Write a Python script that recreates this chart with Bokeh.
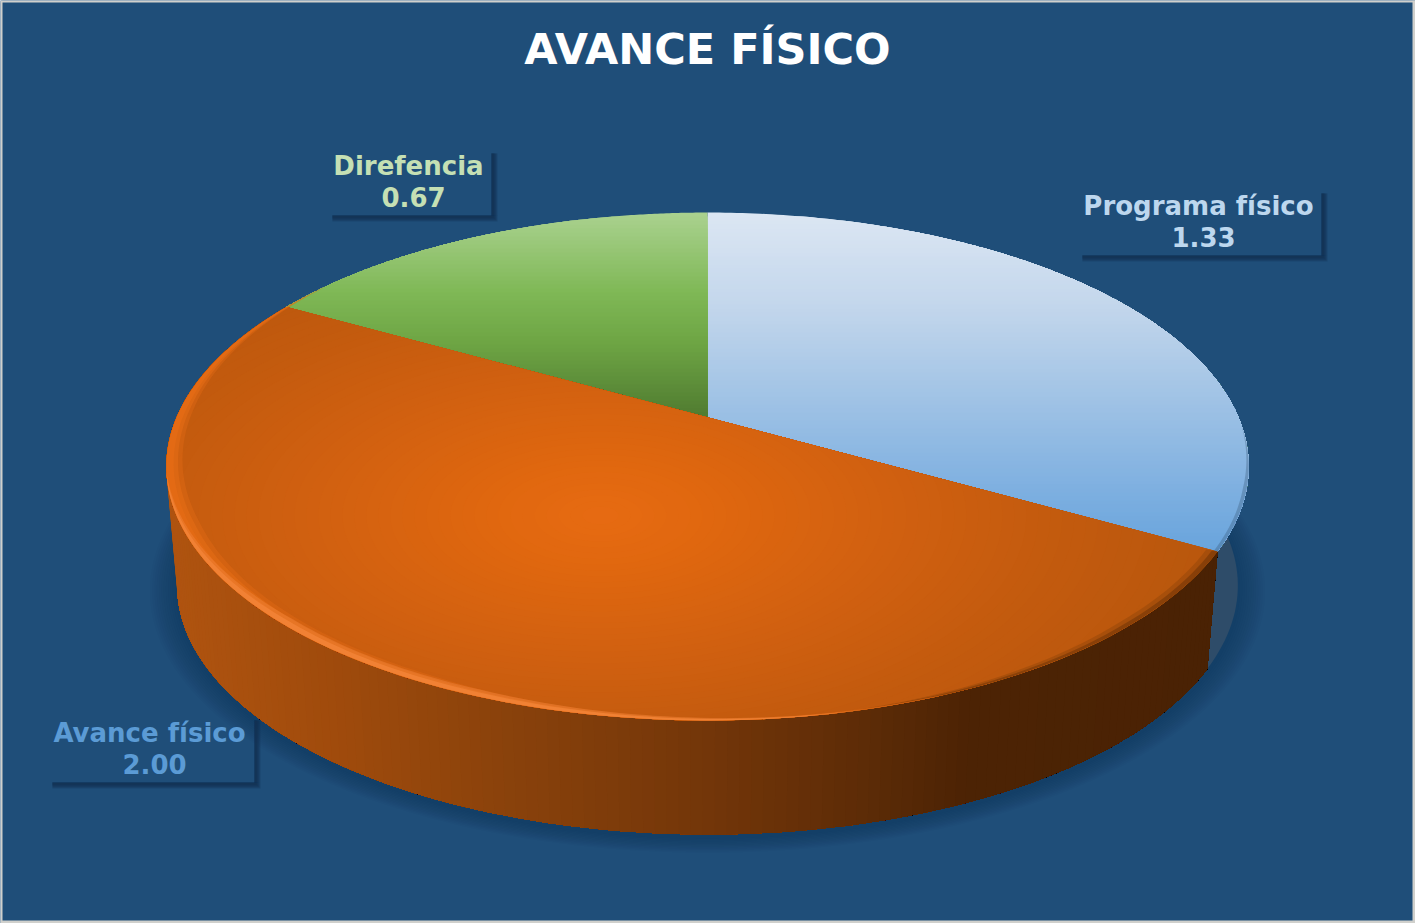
import numpy as np
from bokeh.plotting import figure
from bokeh.models import Range1d
from bokeh.core.properties import value
from bokeh.embed import file_html
from bokeh.resources import INLINE

TITLE = "AVANCE FÍSICO"
categories = ["Programa físico", "Avance físico", "Direfencia"]
values = [1.33, 2.00, 0.67]

BG = "#1F4E79"
FONT = "DejaVu Sans"

# fracción -> ángulo (horario desde arriba)
total = sum(values)
edges = np.cumsum([0] + values) / total * 2 * np.pi
a_blue, a_orange, a_green = (edges[0], edges[1]), (edges[1], edges[2]), (edges[2], edges[3])

# proyección en perspectiva de un disco
CX, K = 707.0, -0.193
A, B = 531.0, 244.5
APEX_Y, WALL_Y, WALL_S = 417.0, 537.0, 0.98


def proj(t, y0=APEX_Y, s=1.0):
    t = np.asarray(t, dtype=float)
    u, v = np.sin(t), np.cos(t)
    d = 1 - K * v
    return CX + s * A * u / d, y0 - s * B * v / d


def hex2rgb(h):
    return np.array([int(h[i:i + 2], 16) for i in (1, 3, 5)], dtype=float)


def ramp(x, stops):
    xs = [s[0] for s in stops]
    cs = np.array([hex2rgb(s[1]) for s in stops])
    return "#%02x%02x%02x" % tuple(int(round(np.interp(x, xs, cs[:, i]))) for i in range(3))


def clip(poly, a, b, c):
    """Conserva a*x+b*y>=c."""
    out = []
    n = len(poly)
    for i in range(n):
        p_, q = poly[i], poly[(i + 1) % n]
        fp, fq = a * p_[0] + b * p_[1] - c, a * q[0] + b * q[1] - c
        if fp >= 0:
            out.append(p_)
        if fp * fq < 0:
            r = fp / (fp - fq)
            out.append((p_[0] + r * (q[0] - p_[0]), p_[1] + r * (q[1] - p_[1])))
    return out


def clip_convex(poly, hull, inner):
    """Recorta poly con el polígono convexo hull; inner es un punto interior."""
    for i in range(len(hull)):
        (x0, y0), (x1, y1) = hull[i], hull[(i + 1) % len(hull)]
        a, b = -(y1 - y0), (x1 - x0)
        c = a * x0 + b * y0
        if a * inner[0] + b * inner[1] < c:
            a, b, c = -a, -b, -c
        poly = clip(poly, a, b, c)
        if len(poly) < 3:
            return []
    return poly


def sector(a0, a1, n=160):
    t = np.linspace(a0, a1, n)
    x, y = proj(t)
    return [(CX, APEX_Y)] + list(zip(x, y))


p = figure(width=1415, height=923, x_range=Range1d(0, 1415), y_range=Range1d(923, 0),
           x_axis_type=None, y_axis_type=None, toolbar_location=None,
           output_backend="svg", min_border=0, outline_line_color=None,
           background_fill_color=BG, border_fill_color=BG)
p.grid.visible = False


def draw(polys, colors, alpha=1.0):
    p.patches([[q[0] for q in P] for P in polys], [[q[1] for q in P] for P in polys],
              fill_color=colors, fill_alpha=alpha, line_color=None)


def crescent(t, widths, color, alpha):
    xo, yo = proj(t)
    u_ = np.asarray(widths)
    xi = xo + (CX - xo) * u_
    yi = yo + (466.0 - yo) * u_
    draw([list(zip(xo, yo)) + list(zip(xi[::-1], yi[::-1]))], [color], alpha=alpha)


# sombra suave bajo el disco
tt = np.linspace(0, 2 * np.pi, 240)
sh_polys = []
for i in range(12, 0, -1):
    sx, sy = proj(tt, y0=WALL_Y + 3, s=WALL_S + i * 0.0042)
    sh_polys.append(list(zip(sx, sy)))
draw(sh_polys, ["#12304f"] * len(sh_polys), alpha=0.028)

# pared azul
ta = np.linspace(np.pi / 4, a_blue[1], 60)
xt, yt = proj(ta)
xb, yb = proj(ta, y0=WALL_Y, s=WALL_S)
draw([list(zip(xt, yt)) + list(zip(xb[::-1], yb[::-1]))], ["#2e4c69"])

# pared naranja: franja por franja, pintando hacia la derecha
WALL_STOPS = [(170, "#b05410"), (330, "#a04b0c"), (500, "#8a420b"), (700, "#733609"),
              (850, "#5e2c07"), (960, "#4c2304"), (1220, "#4a2204")]
steps = np.linspace(a_orange[1], a_orange[0], 170)
wall_polys, wall_cols = [], []
for i in range(len(steps) - 1):
    seg = steps[i:]
    xt, yt = proj(seg)
    xb, yb = proj(seg, y0=WALL_Y, s=WALL_S)
    wall_polys.append(list(zip(xt, yt)) + list(zip(xb[::-1], yb[::-1])))
    wall_cols.append(ramp(xb[0], WALL_STOPS))
draw(wall_polys, wall_cols)

# cara superior: degradados verticales
BLUE_STOPS = [(212, "#dbe6f3"), (300, "#c4d7ec"), (400, "#9fc2e5"), (490, "#7dafe0"), (555, "#66a3dc")]
GREEN_STOPS = [(212, "#a9d18e"), (290, "#7fb856"), (340, "#6ea544"), (417, "#4f7a30")]


def vertical(poly, stops, step=4):
    ys = [q[1] for q in poly]
    polys, cols = [poly], [ramp(min(ys), stops)]
    for y in np.arange(min(ys) + step, max(ys), step):
        polys.append(clip(poly, 0, 1, y))
        cols.append(ramp(y, stops))
    draw(polys, cols)


vertical(sector(*a_blue), BLUE_STOPS)
vertical(sector(*a_green), GREEN_STOPS)

# cara naranja: degradado radial elíptico
face = sector(*a_orange, n=110)[1:]
GX, GY = 600.0, 515.0
R_STOPS = [(0.0, "#e76b12"), (0.2, "#e0670f"), (0.5, "#d06010"), (0.8, "#c25a0e"), (1.05, "#b8570d")]
o_polys, o_cols = [face], ["#b8570d"]
th = np.linspace(0, 2 * np.pi, 90, endpoint=False)
for s in np.linspace(1.05, 0.03, 52):
    ell = list(zip(GX + s * 600 * np.cos(th), GY + s * 290 * np.sin(th)))
    P = clip_convex(ell, face, (GX, GY))
    if len(P) > 2:
        o_polys.append(P)
        o_cols.append(ramp(s, R_STOPS))
draw(o_polys, o_cols)

# biseles del borde
t_dark = np.linspace(a_orange[0], 3.0, 40)
crescent(t_dark, 0.022 * np.interp(t_dark, [a_orange[0], 2.4, 3.0], [1, 1, 0]), "#7a3a08", 0.3)
crescent(t_dark, 0.011 * np.interp(t_dark, [a_orange[0], 2.4, 3.0], [1, 1, 0]), "#5c2b06", 0.4)
t_edge = np.linspace(1.6, a_blue[1], 40)
crescent(t_edge, 0.007 * np.interp(t_edge, [1.6, 1.85, a_blue[1]], [0, 1, 1]), "#2e4c69", 0.3)

# brillo del borde
t_hl = np.linspace(2.7, 5.35, 120)
for f, a_ in ((1.0, 0.35), (0.72, 0.5), (0.45, 0.6)):
    crescent(t_hl, f * np.interp(t_hl, [2.7, 3.14, 3.6, 4.3, 4.75, 5.35], [0, .008, .032, .036, .024, 0]), "#e76d16", a_)
t_hl2 = np.linspace(2.9, 4.5, 90)
for f, a_ in ((1.0, 0.4), (0.6, 0.55)):
    crescent(t_hl2, f * np.interp(t_hl2, [2.9, 3.5, 3.9, 4.5], [0, .026, .026, 0]), "#f68a40", a_)

# etiquetas
LABELS = [
    (categories[0], f"{values[0]:.2f}", 1198, (1080, 1322, 190, 256), "#bdd7ee"),
    (categories[1], f"{values[1]:.2f}", 149, (50, 255, 717, 783), "#5b9bd5"),
    (categories[2], f"{values[2]:.2f}", 408, (330, 492, 150, 216), "#c5e0b4"),
]
for name, val, xc, (l, r, t, b), col in LABELS:
    for k in range(5, 0, -1):
        p.quad(left=[l + 2], right=[r + k], top=[b - 1], bottom=[b + k],
               fill_color="#12304f", fill_alpha=0.28, line_color=None)
        p.quad(left=[r - 1], right=[r + k], top=[t + 3], bottom=[b - 1],
               fill_color="#12304f", fill_alpha=0.28, line_color=None)
    p.text([xc], [(t + b) / 2 - 18], text=[name], text_color=col, text_font=value(FONT),
           text_font_style="bold", text_font_size="26px", text_align="center", text_baseline="middle")
    p.text([xc + 5], [(t + b) / 2 + 13], text=[val], text_color=col, text_font=value(FONT),
           text_font_style="bold", text_font_size="26px", text_align="center", text_baseline="middle")

p.text([707], [48], text=[TITLE], text_color="#ffffff", text_font=value(FONT),
       text_font_style="bold", text_font_size="43px", text_align="center", text_baseline="middle")

# marco claro de la captura
EDGE = "#d0d0cc"
p.quad(left=[0, 0, 0, 1412], right=[1415, 1415, 2, 1415], top=[0, 920, 0, 0], bottom=[2, 923, 923, 923],
       fill_color=EDGE, line_color=None)

open("out.html", "w").write(file_html(p, INLINE))
